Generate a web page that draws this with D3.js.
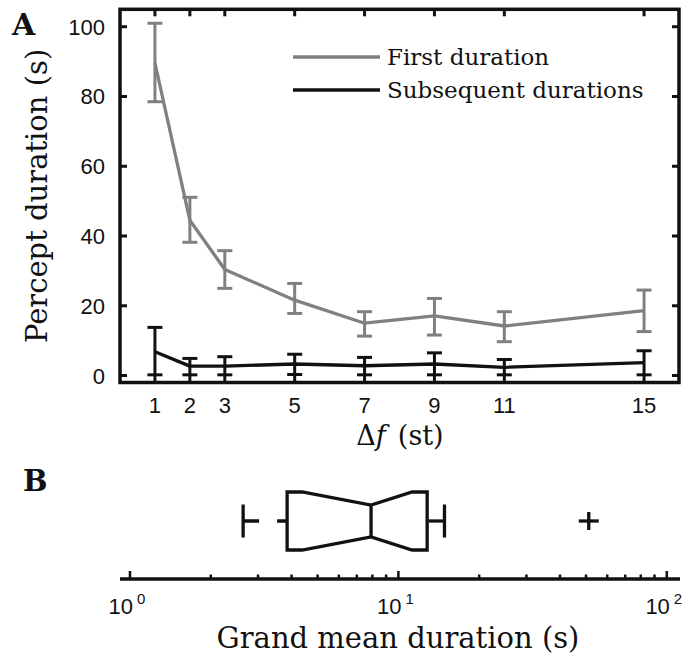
<!DOCTYPE html>
<html lang="en">
<head>
  <meta charset="utf-8">
  <title>Percept duration vs delta f</title>
  <script src="https://d3js.org/d3.v7.min.js"></script>
  <style>
    body { margin: 0; background: #fff; }
    svg { display: block; }
    .tick-lab { font-family: "Liberation Sans", Arial, sans-serif; font-size: 22px; fill: #111; }
    .serif { font-family: "DejaVu Serif", serif; fill: #111; }
  </style>
</head>
<body>
<svg id="chart" width="683" height="657"></svg>
<script>
  // Panel A data
  const deltaF = [1, 2, 3, 5, 7, 9, 11, 15];
  const firstMean = [89.6, 44.5, 30.4, 21.6, 15.0, 17.1, 14.2, 18.6];
  const firstHigh = [101.0, 51.1, 35.8, 26.4, 18.3, 22.1, 18.3, 24.5];
  const firstLow  = [78.5, 38.2, 25.0, 17.8, 11.3, 11.6, 9.7, 12.6];
  const subMean = [6.8, 2.7, 2.7, 3.3, 2.8, 3.3, 2.35, 3.7];
  const subHigh = [13.8, 4.9, 5.4, 6.1, 5.2, 6.5, 4.6, 7.1];
  const subLow  = [0.2, 0.2, 0.2, 0.3, 0.2, 0.2, 0.2, 0.2];
  const yTicks = [0, 20, 40, 60, 80, 100];

  // Panel B box plot (grand mean duration, s)
  const boxStats = { min: 2.64, q1: 3.85, notchLo: 4.38, median: 7.91, notchHi: 11.25, q3: 12.8, max: 14.85 };
  const outliers = [51.2];
  const logMajor = [1, 10, 100];

  const grey = "#808080";
  const black = "#111";

  const svg = d3.select("#chart");

  // ---------- Panel A ----------
  const x = d3.scaleLinear().domain([0, 16]).range([120, 679]);
  const y = d3.scaleLinear().domain([-2, 105]).range([382.5, 9.3]);

  const gA = svg.append("g");

  // axes box
  gA.append("rect")
    .attr("x", x(0)).attr("y", y(105))
    .attr("width", x(16) - x(0)).attr("height", y(-2) - y(105))
    .attr("fill", "none").attr("stroke", black).attr("stroke-width", 3.5);

  // inward ticks on all four sides
  const tl = 7;
  deltaF.forEach(d => {
    gA.append("line").attr("x1", x(d)).attr("x2", x(d))
      .attr("y1", y(-2)).attr("y2", y(-2) - tl).attr("stroke", black).attr("stroke-width", 3);
    gA.append("line").attr("x1", x(d)).attr("x2", x(d))
      .attr("y1", y(105)).attr("y2", y(105) + tl).attr("stroke", black).attr("stroke-width", 3);
    gA.append("text").attr("class", "tick-lab")
      .attr("x", x(d)).attr("y", 413).attr("text-anchor", "middle").text(d);
  });
  yTicks.forEach(d => {
    gA.append("line").attr("x1", x(0)).attr("x2", x(0) + tl)
      .attr("y1", y(d)).attr("y2", y(d)).attr("stroke", black).attr("stroke-width", 3);
    gA.append("line").attr("x1", x(16)).attr("x2", x(16) - tl)
      .attr("y1", y(d)).attr("y2", y(d)).attr("stroke", black).attr("stroke-width", 3);
    gA.append("text").attr("class", "tick-lab")
      .attr("x", 105).attr("y", y(d) + 8).attr("text-anchor", "end").text(d);
  });

  function drawSeries(means, lows, highs, color) {
    const pts = deltaF.map((d, i) => ({ x: d, m: means[i], lo: lows[i], hi: highs[i] }));
    const line = d3.line().x(d => x(d.x)).y(d => y(d.m));
    gA.append("path").datum(pts)
      .attr("d", line).attr("fill", "none")
      .attr("stroke", color).attr("stroke-width", 3.3).attr("stroke-linejoin", "round");
    const cap = 7.5;
    const eb = gA.append("g").attr("stroke", color).attr("stroke-width", 3);
    pts.forEach(p => {
      eb.append("line").attr("x1", x(p.x)).attr("x2", x(p.x)).attr("y1", y(p.lo)).attr("y2", y(p.hi));
      eb.append("line").attr("x1", x(p.x) - cap).attr("x2", x(p.x) + cap).attr("y1", y(p.lo)).attr("y2", y(p.lo));
      eb.append("line").attr("x1", x(p.x) - cap).attr("x2", x(p.x) + cap).attr("y1", y(p.hi)).attr("y2", y(p.hi));
    });
  }
  drawSeries(firstMean, firstLow, firstHigh, grey);
  drawSeries(subMean, subLow, subHigh, black);

  // legend
  const legend = [
    { label: "First duration", color: grey, yy: 57 },
    { label: "Subsequent durations", color: black, yy: 90 }
  ];
  legend.forEach(l => {
    gA.append("line").attr("x1", 293).attr("x2", 380).attr("y1", l.yy).attr("y2", l.yy)
      .attr("stroke", l.color).attr("stroke-width", 3.5);
    gA.append("text").attr("class", "serif").attr("font-size", 23)
      .attr("x", 387).attr("y", l.yy + 8).text(l.label);
  });

  // axis labels
  gA.append("text").attr("class", "serif").attr("font-size", 29)
    .attr("text-anchor", "middle")
    .attr("transform", `translate(47,${(y(-2) + y(105)) / 2}) rotate(-90)`)
    .text("Percept duration (s)");

  const xl = gA.append("text").attr("class", "serif").attr("font-size", 27)
    .attr("x", 400).attr("y", 445).attr("text-anchor", "middle");
  xl.append("tspan").text("Δ");
  xl.append("tspan").attr("font-style", "italic").text("f");
  xl.append("tspan").attr("dx", 12).text("(st)");

  gA.append("text").attr("class", "serif").attr("font-size", 30).attr("font-weight", "bold")
    .attr("x", 12).attr("y", 35).text("A");

  // ---------- Panel B ----------
  const xb = d3.scaleLog().domain([0.918, 112]).range([120, 680]);
  const gB = svg.append("g");
  const axY = 579;

  gB.append("line").attr("x1", 120).attr("x2", 680).attr("y1", axY).attr("y2", axY)
    .attr("stroke", black).attr("stroke-width", 3.5);

  const minorTicks = xb.ticks().filter(t => t >= 1 && t <= 100);
  minorTicks.forEach(t => {
    const major = logMajor.includes(t);
    gB.append("line").attr("x1", xb(t)).attr("x2", xb(t))
      .attr("y1", axY).attr("y2", axY - (major ? 8 : 4.5))
      .attr("stroke", black).attr("stroke-width", 2.5);
  });
  logMajor.forEach(t => {
    const lab = gB.append("text").attr("class", "tick-lab").attr("font-size", 21)
      .attr("x", xb(t) - 3).attr("y", 614).attr("text-anchor", "middle");
    lab.append("tspan").text("10");
    lab.append("tspan").attr("font-size", 15).attr("dx", 4).attr("dy", -10).text(Math.log10(t));
  });

  const cy = 521, bh = 29, nh = 16, ch = 16.5;
  const s = boxStats;
  const boxPts = [
    [xb(s.q1), cy - bh], [xb(s.notchLo), cy - bh], [xb(s.median), cy - nh],
    [xb(s.notchHi), cy - bh], [xb(s.q3), cy - bh], [xb(s.q3), cy + bh],
    [xb(s.notchHi), cy + bh], [xb(s.median), cy + nh], [xb(s.notchLo), cy + bh],
    [xb(s.q1), cy + bh]
  ];
  const bg = gB.append("g").attr("stroke", black).attr("stroke-width", 3.3).attr("fill", "none");
  bg.append("path").attr("d", d3.line()(boxPts) + "Z").attr("stroke-linejoin", "miter");
  bg.append("line").attr("x1", xb(s.median)).attr("x2", xb(s.median))
    .attr("y1", cy - nh).attr("y2", cy + nh);
  // whiskers (dashed, drawn from the whisker end toward the box)
  bg.append("line").attr("x1", xb(s.min)).attr("x2", xb(s.q1)).attr("y1", cy).attr("y2", cy)
    .attr("stroke-dasharray", "16,18");
  bg.append("line").attr("x1", xb(s.max)).attr("x2", xb(s.q3)).attr("y1", cy).attr("y2", cy)
    .attr("stroke-dasharray", "16,18");
  [s.min, s.max].forEach(v => {
    bg.append("line").attr("x1", xb(v)).attr("x2", xb(v)).attr("y1", cy - ch).attr("y2", cy + ch);
  });
  outliers.forEach(v => {
    bg.append("line").attr("x1", xb(v) - 10).attr("x2", xb(v) + 10).attr("y1", cy).attr("y2", cy);
    bg.append("line").attr("x1", xb(v)).attr("x2", xb(v)).attr("y1", cy - 9).attr("y2", cy + 9);
  });

  gB.append("text").attr("class", "serif").attr("font-size", 29)
    .attr("x", 398).attr("y", 648).attr("text-anchor", "middle")
    .text("Grand mean duration (s)");

  gB.append("text").attr("class", "serif").attr("font-size", 29).attr("font-weight", "bold")
    .attr("x", 23).attr("y", 491).text("B");
</script>
</body>
</html>
